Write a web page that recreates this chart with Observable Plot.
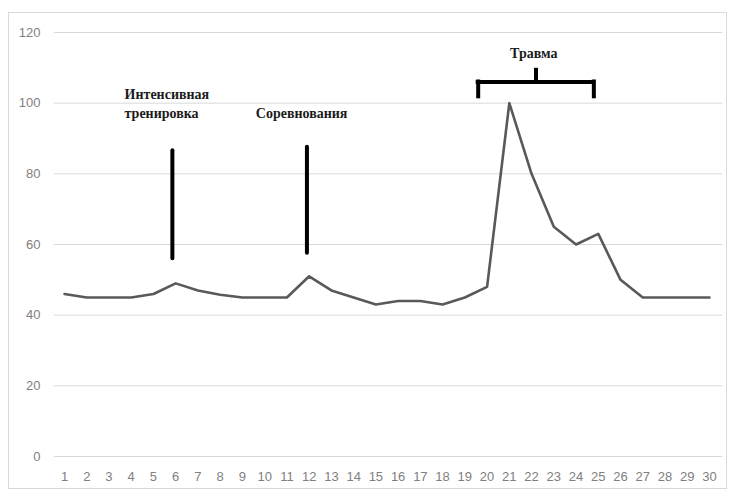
<!DOCTYPE html>
<html>
<head>
<meta charset="utf-8">
<script src="https://cdn.jsdelivr.net/npm/d3@7"></script>
<script src="https://cdn.jsdelivr.net/npm/@observablehq/plot@0.6"></script>
<style>
  body { margin: 0; background: #fff; }
  #wrap { position: relative; width: 731px; height: 493px; }
  #border { position: absolute; left: 8px; top: 12px; width: 717px; height: 475px; border: 1px solid #d9d9d9; pointer-events: none; }
</style>
</head>
<body>
<div id="wrap"><div id="border"></div></div>
<script>
const days = d3.range(1, 31);
const values = [46, 45, 45, 45, 46, 49, 47, 45.8, 45, 45, 45, 51, 47, 45, 43, 44, 44, 43, 45, 48, 100, 80, 65, 60, 63, 50, 45, 45, 45, 45];
const yTicks = [0, 20, 40, 60, 80, 100, 120];

// annotations
const markerX = [5.85, 11.9];
const markerY1 = [56, 57.5];
const markerY2 = [86.5, 87.5];
const labelText = ["Интенсивная\nтренировка", "Соревнования"];
const labelX = [3.7, 9.6];
const labelY = [105.2, 99.8];
const bracketX = [19.6, 24.8];
const bracketMid = 22.2;
const bracketY = [101.8, 106, 109.3];
const injuryLabel = "Травма";
const injuryY = 114;

const series = days.map((d, i) => ({day: d, value: values[i]}));

const chart = Plot.plot({
  width: 731,
  height: 493,
  marginLeft: 64,
  marginRight: 22,
  marginTop: 32,
  marginBottom: 37,
  style: {background: "transparent", fontFamily: "Liberation Sans, Arial, sans-serif", fontSize: "13px", color: "#808080"},
  x: {domain: [1, 30], ticks: days, tickFormat: d => String(d), tickSize: 0, tickPadding: 15, label: null},
  y: {domain: [0, 120], ticks: yTicks, tickSize: 0, tickPadding: 24, label: null},
  marks: [
    Plot.ruleY(yTicks, {x1: 0.55, x2: 30.6, stroke: "#d9d9d9", strokeWidth: 1}),
    Plot.line(series, {x: "day", y: "value", stroke: "#595959", strokeWidth: 2.6}),
    Plot.ruleX(markerX, {y1: (d, i) => markerY1[i], y2: (d, i) => markerY2[i], stroke: "#000", strokeWidth: 4, strokeLinecap: "round"}),
    Plot.text(labelText, {x: (d, i) => labelX[i], y: (d, i) => labelY[i], text: d => d, textAnchor: "start", lineAnchor: "top", lineHeight: 1.4, fontFamily: "Liberation Serif, Times New Roman, serif", fontWeight: "bold", fontSize: 14, fill: "#1a1a1a"}),
    Plot.ruleY([bracketY[1]], {x1: bracketX[0], x2: bracketX[1], stroke: "#000", strokeWidth: 4, strokeLinecap: "square"}),
    Plot.ruleX(bracketX, {y1: bracketY[0], y2: bracketY[1], stroke: "#000", strokeWidth: 4, strokeLinecap: "square"}),
    Plot.ruleX([bracketMid], {y1: bracketY[1], y2: bracketY[2], stroke: "#000", strokeWidth: 4, strokeLinecap: "square"}),
    Plot.text([injuryLabel], {x: bracketMid - 0.1, y: injuryY, text: d => d, fontFamily: "Liberation Serif, Times New Roman, serif", fontWeight: "bold", fontSize: 14, fill: "#1a1a1a"})
  ]
});
document.getElementById("wrap").prepend(chart);
</script>
</body>
</html>
